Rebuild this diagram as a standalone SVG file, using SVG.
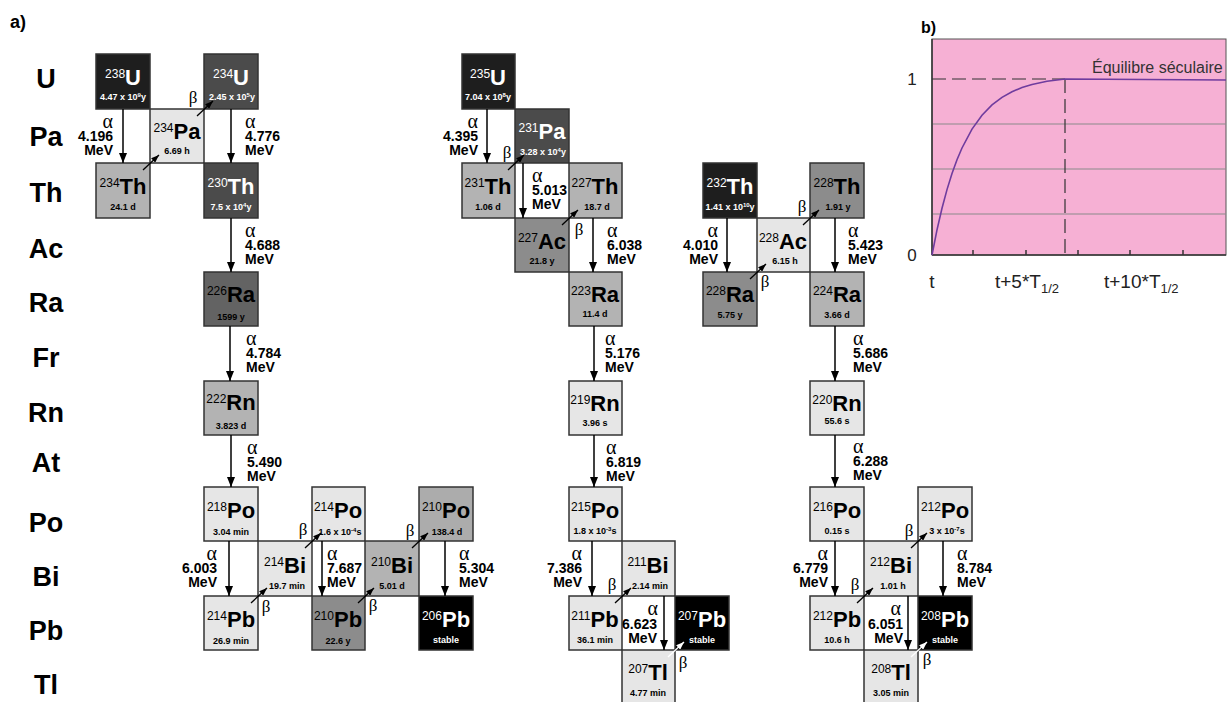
<svg xmlns="http://www.w3.org/2000/svg" width="1231" height="702" viewBox="0 0 1231 702">
<defs>
<style>
text{font-family:"Liberation Sans",Arial,sans-serif}
.bx{stroke:#333;stroke-width:1.5}
.sym{font-weight:bold;font-size:22px;text-anchor:middle}
.ms{font-weight:normal;font-size:12px}
.hl{font-weight:bold;font-size:9px;text-anchor:middle}
.sp{font-size:6px}
.w{fill:#fff}
.row{font-weight:bold;font-size:27px;text-anchor:middle}
.al{stroke:#000;stroke-width:1.5;fill:none;marker-end:url(#ah)}
.bl{stroke:#000;stroke-width:1.3;fill:none;marker-end:url(#bh)}
.blw{stroke:#fff;stroke-width:1.3;fill:none;marker-end:url(#bhw)}
.gr{font-family:"Liberation Serif","Times New Roman",serif;font-size:20px;font-weight:normal}
.bt{font-family:"Liberation Serif","Times New Roman",serif;font-size:17px;text-anchor:middle}
.en{font-weight:bold;font-size:14px}
.e{text-anchor:end}
.gl{font-size:19px;fill:#222}
</style>
<marker id="ah" markerWidth="10" markerHeight="8" refX="10" refY="4" orient="auto" markerUnits="userSpaceOnUse"><path d="M0,0 L10,4 L0,8 z" fill="#000"/></marker>
<marker id="bh" markerWidth="8" markerHeight="6" refX="8" refY="3" orient="auto" markerUnits="userSpaceOnUse"><path d="M0,0 L8,3 L0,6 z" fill="#000"/></marker>
<marker id="bhw" markerWidth="8" markerHeight="6" refX="8" refY="3" orient="auto" markerUnits="userSpaceOnUse"><path d="M0,0 L8,3 L0,6 z" fill="#fff"/></marker>
</defs>
<rect width="1231" height="702" fill="#fff"/>

<g id="row-labels">
<text x="10" y="28" font-weight="bold" font-size="18">a)</text>
<text class="row" x="46" y="88">U</text>
<text class="row" x="46" y="146">Pa</text>
<text class="row" x="46" y="202">Th</text>
<text class="row" x="46" y="258">Ac</text>
<text class="row" x="46" y="312">Ra</text>
<text class="row" x="46" y="367">Fr</text>
<text class="row" x="46" y="422">Rn</text>
<text class="row" x="46" y="472">At</text>
<text class="row" x="46" y="532">Po</text>
<text class="row" x="46" y="586">Bi</text>
<text class="row" x="46" y="640">Pb</text>
<text class="row" x="46" y="694">Tl</text>
</g>

<!-- Uranium series -->
<g id="U238"><rect class="bx" x="96" y="54" width="54" height="55" fill="#1e1e1e"/><text class="sym w" x="123" y="85"><tspan class="ms" dy="-7">238</tspan><tspan dy="7">U</tspan></text><text class="hl w" x="123" y="100">4.47 x 10<tspan class="sp" dy="-3">9</tspan><tspan dy="3">y</tspan></text></g>
<g id="U234"><rect class="bx" x="204" y="54" width="54" height="55" fill="#4b4b4b"/><text class="sym w" x="231" y="85"><tspan class="ms" dy="-7">234</tspan><tspan dy="7">U</tspan></text><text class="hl w" x="232" y="100">2.45 x 10<tspan class="sp" dy="-3">5</tspan><tspan dy="3">y</tspan></text></g>
<g id="Pa234"><rect class="bx" x="150" y="109" width="54" height="54" fill="#e6e6e6"/><text class="sym" x="177" y="139"><tspan class="ms" dy="-7">234</tspan><tspan dy="7">Pa</tspan></text><text class="hl" x="177" y="154">6.69 h</text></g>
<g id="Th234"><rect class="bx" x="96" y="163" width="54" height="55" fill="#b3b3b3"/><text class="sym" x="123" y="194"><tspan class="ms" dy="-7">234</tspan><tspan dy="7">Th</tspan></text><text class="hl" x="123" y="210">24.1 d</text></g>
<g id="Th230"><rect class="bx" x="204" y="163" width="54" height="55" fill="#4b4b4b"/><text class="sym w" x="231" y="194"><tspan class="ms" dy="-7">230</tspan><tspan dy="7">Th</tspan></text><text class="hl w" x="231" y="210">7.5 x 10<tspan class="sp" dy="-3">4</tspan><tspan dy="3">y</tspan></text></g>
<g id="Ra226"><rect class="bx" x="204" y="272" width="54" height="54" fill="#636363"/><text class="sym" x="231" y="302"><tspan class="ms" dy="-7">226</tspan><tspan dy="7">Ra</tspan></text><text class="hl" x="231" y="320">1599 y</text></g>
<g id="Rn222"><rect class="bx" x="204" y="381" width="54" height="54" fill="#b3b3b3"/><text class="sym" x="231" y="410"><tspan class="ms" dy="-7">222</tspan><tspan dy="7">Rn</tspan></text><text class="hl" x="231" y="429">3.823 d</text></g>
<g id="Po218"><rect class="bx" x="204" y="487" width="54" height="54" fill="#e6e6e6"/><text class="sym" x="231" y="518"><tspan class="ms" dy="-7">218</tspan><tspan dy="7">Po</tspan></text><text class="hl" x="231" y="535">3.04 min</text></g>
<g id="Bi214"><rect class="bx" x="258" y="541" width="54" height="55" fill="#e6e6e6"/><text class="sym" x="285" y="573"><tspan class="ms" dy="-7">214</tspan><tspan dy="7">Bi</tspan></text><text class="hl" x="287" y="589">19.7 min</text></g>
<g id="Po214"><rect class="bx" x="312" y="487" width="53" height="54" fill="#e6e6e6"/><text class="sym" x="338" y="518"><tspan class="ms" dy="-7">214</tspan><tspan dy="7">Po</tspan></text><text class="hl" x="340" y="535">1.6 x 10<tspan class="sp" dy="-3">-4</tspan><tspan dy="3">s</tspan></text></g>
<g id="Pb214"><rect class="bx" x="204" y="596" width="54" height="54" fill="#e6e6e6"/><text class="sym" x="231" y="627"><tspan class="ms" dy="-7">214</tspan><tspan dy="7">Pb</tspan></text><text class="hl" x="231" y="644">26.9 min</text></g>
<g id="Bi210"><rect class="bx" x="365" y="541" width="54" height="55" fill="#b3b3b3"/><text class="sym" x="392" y="573"><tspan class="ms" dy="-7">210</tspan><tspan dy="7">Bi</tspan></text><text class="hl" x="392" y="589">5.01 d</text></g>
<g id="Pb210"><rect class="bx" x="312" y="596" width="53" height="54" fill="#8c8c8c"/><text class="sym" x="338" y="627"><tspan class="ms" dy="-7">210</tspan><tspan dy="7">Pb</tspan></text><text class="hl" x="338" y="644">22.6 y</text></g>
<g id="Po210"><rect class="bx" x="419" y="487" width="54" height="54" fill="#acacac"/><text class="sym" x="446" y="518"><tspan class="ms" dy="-7">210</tspan><tspan dy="7">Po</tspan></text><text class="hl" x="447" y="535">138.4 d</text></g>
<g id="Pb206"><rect class="bx" x="419" y="596" width="54" height="54" fill="#000"/><text class="sym w" x="446" y="627"><tspan class="ms" dy="-7">206</tspan><tspan dy="7">Pb</tspan></text><text class="hl w" x="446" y="643">stable</text></g>

<!-- Actinium series -->
<g id="U235"><rect class="bx" x="462" y="54" width="53" height="55" fill="#1e1e1e"/><text class="sym w" x="488" y="85"><tspan class="ms" dy="-7">235</tspan><tspan dy="7">U</tspan></text><text class="hl w" x="488" y="100">7.04 x 10<tspan class="sp" dy="-3">8</tspan><tspan dy="3">y</tspan></text></g>
<g id="Pa231"><rect class="bx" x="515" y="109" width="54" height="54" fill="#4b4b4b"/><text class="sym w" x="542" y="139"><tspan class="ms" dy="-7">231</tspan><tspan dy="7">Pa</tspan></text><text class="hl w" x="543" y="155">3.28 x 10<tspan class="sp" dy="-3">4</tspan><tspan dy="3">y</tspan></text></g>
<g id="Th231"><rect class="bx" x="462" y="163" width="53" height="55" fill="#b3b3b3"/><text class="sym" x="488" y="194"><tspan class="ms" dy="-7">231</tspan><tspan dy="7">Th</tspan></text><text class="hl" x="488" y="210">1.06 d</text></g>
<g id="Th227"><rect class="bx" x="569" y="163" width="53" height="55" fill="#b3b3b3"/><text class="sym" x="595" y="194"><tspan class="ms" dy="-7">227</tspan><tspan dy="7">Th</tspan></text><text class="hl" x="597" y="210">18.7 d</text></g>
<g id="Ac227"><rect class="bx" x="515" y="218" width="54" height="54" fill="#8c8c8c"/><text class="sym" x="542" y="249"><tspan class="ms" dy="-7">227</tspan><tspan dy="7">Ac</tspan></text><text class="hl" x="542" y="264">21.8 y</text></g>
<g id="Ra223"><rect class="bx" x="569" y="272" width="53" height="54" fill="#b3b3b3"/><text class="sym" x="595" y="302"><tspan class="ms" dy="-7">223</tspan><tspan dy="7">Ra</tspan></text><text class="hl" x="595" y="317">11.4 d</text></g>
<g id="Rn219"><rect class="bx" x="569" y="381" width="53" height="54" fill="#e6e6e6"/><text class="sym" x="595" y="411"><tspan class="ms" dy="-7">219</tspan><tspan dy="7">Rn</tspan></text><text class="hl" x="595" y="426">3.96 s</text></g>
<g id="Po215"><rect class="bx" x="569" y="487" width="53" height="54" fill="#e6e6e6"/><text class="sym" x="595" y="518"><tspan class="ms" dy="-7">215</tspan><tspan dy="7">Po</tspan></text><text class="hl" x="595" y="534">1.8 x 10<tspan class="sp" dy="-3">-3</tspan><tspan dy="3">s</tspan></text></g>
<g id="Bi211"><rect class="bx" x="622" y="541" width="53" height="55" fill="#e6e6e6"/><text class="sym" x="648" y="573"><tspan class="ms" dy="-7">211</tspan><tspan dy="7">Bi</tspan></text><text class="hl" x="650" y="589">2.14 min</text></g>
<g id="Pb211"><rect class="bx" x="569" y="596" width="53" height="54" fill="#e6e6e6"/><text class="sym" x="595" y="627"><tspan class="ms" dy="-7">211</tspan><tspan dy="7">Pb</tspan></text><text class="hl" x="595" y="643">36.1 min</text></g>
<g id="Pb207"><rect class="bx" x="675" y="596" width="54" height="54" fill="#000"/><text class="sym w" x="702" y="627"><tspan class="ms" dy="-7">207</tspan><tspan dy="7">Pb</tspan></text><text class="hl w" x="702" y="643">stable</text></g>
<g id="Tl207"><rect class="bx" x="622" y="650" width="53" height="54" fill="#e6e6e6"/><text class="sym" x="648" y="680"><tspan class="ms" dy="-7">207</tspan><tspan dy="7">Tl</tspan></text><text class="hl" x="648" y="696">4.77 min</text></g>

<!-- Thorium series -->
<g id="Th232"><rect class="bx" x="703" y="163" width="54" height="55" fill="#1e1e1e"/><text class="sym w" x="730" y="194"><tspan class="ms" dy="-7">232</tspan><tspan dy="7">Th</tspan></text><text class="hl w" x="730" y="210">1.41 x 10<tspan class="sp" dy="-3">10</tspan><tspan dy="3">y</tspan></text></g>
<g id="Th228"><rect class="bx" x="810" y="163" width="54" height="55" fill="#8c8c8c"/><text class="sym" x="837" y="194"><tspan class="ms" dy="-7">228</tspan><tspan dy="7">Th</tspan></text><text class="hl" x="838" y="210">1.91 y</text></g>
<g id="Ac228"><rect class="bx" x="757" y="218" width="53" height="54" fill="#e6e6e6"/><text class="sym" x="783" y="249"><tspan class="ms" dy="-7">228</tspan><tspan dy="7">Ac</tspan></text><text class="hl" x="785" y="264">6.15 h</text></g>
<g id="Ra228"><rect class="bx" x="703" y="272" width="54" height="54" fill="#8c8c8c"/><text class="sym" x="730" y="302"><tspan class="ms" dy="-7">228</tspan><tspan dy="7">Ra</tspan></text><text class="hl" x="730" y="318">5.75 y</text></g>
<g id="Ra224"><rect class="bx" x="810" y="272" width="54" height="54" fill="#b3b3b3"/><text class="sym" x="837" y="302"><tspan class="ms" dy="-7">224</tspan><tspan dy="7">Ra</tspan></text><text class="hl" x="837" y="318">3.66 d</text></g>
<g id="Rn220"><rect class="bx" x="810" y="381" width="54" height="54" fill="#e6e6e6"/><text class="sym" x="837" y="411"><tspan class="ms" dy="-7">220</tspan><tspan dy="7">Rn</tspan></text><text class="hl" x="837" y="424">55.6 s</text></g>
<g id="Po216"><rect class="bx" x="810" y="487" width="54" height="54" fill="#e6e6e6"/><text class="sym" x="837" y="518"><tspan class="ms" dy="-7">216</tspan><tspan dy="7">Po</tspan></text><text class="hl" x="837" y="534">0.15 s</text></g>
<g id="Po212"><rect class="bx" x="918" y="487" width="54" height="54" fill="#e6e6e6"/><text class="sym" x="945" y="518"><tspan class="ms" dy="-7">212</tspan><tspan dy="7">Po</tspan></text><text class="hl" x="947" y="534">3 x 10<tspan class="sp" dy="-3">-7</tspan><tspan dy="3">s</tspan></text></g>
<g id="Bi212"><rect class="bx" x="864" y="541" width="54" height="55" fill="#e6e6e6"/><text class="sym" x="891" y="573"><tspan class="ms" dy="-7">212</tspan><tspan dy="7">Bi</tspan></text><text class="hl" x="893" y="589">1.01 h</text></g>
<g id="Pb212"><rect class="bx" x="810" y="596" width="54" height="54" fill="#e6e6e6"/><text class="sym" x="837" y="627"><tspan class="ms" dy="-7">212</tspan><tspan dy="7">Pb</tspan></text><text class="hl" x="837" y="643">10.6 h</text></g>
<g id="Pb208"><rect class="bx" x="918" y="596" width="54" height="54" fill="#000"/><text class="sym w" x="945" y="627"><tspan class="ms" dy="-7">208</tspan><tspan dy="7">Pb</tspan></text><text class="hl w" x="945" y="643">stable</text></g>
<g id="Tl208"><rect class="bx" x="864" y="650" width="54" height="54" fill="#e6e6e6"/><text class="sym" x="891" y="680"><tspan class="ms" dy="-7">208</tspan><tspan dy="7">Tl</tspan></text><text class="hl" x="891" y="696">3.05 min</text></g>

<g id="connectors">
<!-- alpha arrows -->
<line class="al" x1="123" y1="109" x2="123" y2="163"/>
<line class="al" x1="231" y1="109" x2="231" y2="163"/>
<line class="al" x1="231" y1="218" x2="231" y2="272"/>
<line class="al" x1="230" y1="326" x2="230" y2="381"/>
<line class="al" x1="231" y1="435" x2="231" y2="487"/>
<line class="al" x1="229" y1="541" x2="229" y2="596"/>
<line class="al" x1="322" y1="541" x2="322" y2="596"/>
<line class="al" x1="445" y1="541" x2="445" y2="596"/>
<line class="al" x1="487" y1="109" x2="487" y2="163"/>
<line class="al" x1="523" y1="163" x2="523" y2="218"/>
<line class="al" x1="593" y1="218" x2="593" y2="272"/>
<line class="al" x1="594" y1="326" x2="594" y2="381"/>
<line class="al" x1="594" y1="435" x2="594" y2="487"/>
<line class="al" x1="592" y1="541" x2="592" y2="596"/>
<line class="al" x1="664" y1="596" x2="664" y2="650"/>
<line class="al" x1="727" y1="218" x2="727" y2="272"/>
<line class="al" x1="835" y1="218" x2="835" y2="272"/>
<line class="al" x1="835" y1="326" x2="835" y2="381"/>
<line class="al" x1="835" y1="435" x2="835" y2="487"/>
<line class="al" x1="835" y1="541" x2="835" y2="596"/>
<line class="al" x1="943" y1="541" x2="943" y2="596"/>
<line class="al" x1="908" y1="596" x2="908" y2="650"/>
<!-- beta arrows -->
<line class="bl" x1="143" y1="170" x2="159" y2="155"/>
<line class="bl" x1="197" y1="116" x2="213" y2="101"/>
<line class="bl" x1="305" y1="548" x2="321" y2="533"/>
<line class="bl" x1="251" y1="603" x2="267" y2="588"/>
<line class="bl" x1="412" y1="548" x2="428" y2="533"/>
<line class="bl" x1="358" y1="603" x2="374" y2="588"/>
<line class="bl" x1="508" y1="170" x2="524" y2="155"/>
<line class="bl" x1="562" y1="225" x2="578" y2="210"/>
<line class="bl" x1="615" y1="603" x2="631" y2="588"/>
<line class="blw" x1="668" y1="657" x2="684" y2="642"/>
<line class="bl" x1="750" y1="279" x2="766" y2="264"/>
<line class="bl" x1="803" y1="225" x2="819" y2="210"/>
<line class="bl" x1="857" y1="603" x2="873" y2="588"/>
<line class="bl" x1="911" y1="548" x2="927" y2="533"/>
<line class="blw" x1="911" y1="657" x2="927" y2="642"/>
<!-- beta labels -->
<text class="bt" x="193" y="103">β</text>
<text class="bt" x="303" y="535">β</text>
<text class="bt" x="266" y="612">β</text>
<text class="bt" x="410" y="536">β</text>
<text class="bt" x="373" y="611">β</text>
<text class="bt" x="507" y="158">β</text>
<text class="bt" x="579" y="235">β</text>
<text class="bt" x="612" y="590">β</text>
<text class="bt" x="683" y="668">β</text>
<text class="bt" x="765" y="287">β</text>
<text class="bt" x="802" y="212">β</text>
<text class="bt" x="855" y="590">β</text>
<text class="bt" x="909" y="536">β</text>
<text class="bt" x="927" y="665">β</text>
<!-- alpha labels -->
<text class="en e"><tspan class="gr" x="113" y="128">α</tspan><tspan x="113" y="141">4.196</tspan><tspan x="113" y="155">MeV</tspan></text>
<text class="en"><tspan class="gr" x="245" y="128">α</tspan><tspan x="245" y="141">4.776</tspan><tspan x="245" y="155">MeV</tspan></text>
<text class="en"><tspan class="gr" x="245" y="237">α</tspan><tspan x="245" y="250">4.688</tspan><tspan x="245" y="264">MeV</tspan></text>
<text class="en"><tspan class="gr" x="246" y="345">α</tspan><tspan x="246" y="358">4.784</tspan><tspan x="246" y="372">MeV</tspan></text>
<text class="en"><tspan class="gr" x="247" y="454">α</tspan><tspan x="247" y="467">5.490</tspan><tspan x="247" y="481">MeV</tspan></text>
<text class="en e"><tspan class="gr" x="217" y="560">α</tspan><tspan x="217" y="573">6.003</tspan><tspan x="217" y="587">MeV</tspan></text>
<text class="en"><tspan class="gr" x="327" y="560">α</tspan><tspan x="327" y="573">7.687</tspan><tspan x="327" y="587">MeV</tspan></text>
<text class="en"><tspan class="gr" x="459" y="560">α</tspan><tspan x="459" y="573">5.304</tspan><tspan x="459" y="587">MeV</tspan></text>
<text class="en e"><tspan class="gr" x="478" y="128">α</tspan><tspan x="478" y="141">4.395</tspan><tspan x="478" y="155">MeV</tspan></text>
<text class="en"><tspan class="gr" x="532" y="182">α</tspan><tspan x="532" y="195">5.013</tspan><tspan x="532" y="209">MeV</tspan></text>
<text class="en"><tspan class="gr" x="607" y="237">α</tspan><tspan x="607" y="250">6.038</tspan><tspan x="607" y="264">MeV</tspan></text>
<text class="en"><tspan class="gr" x="605" y="345">α</tspan><tspan x="605" y="358">5.176</tspan><tspan x="605" y="372">MeV</tspan></text>
<text class="en"><tspan class="gr" x="606" y="454">α</tspan><tspan x="606" y="467">6.819</tspan><tspan x="606" y="481">MeV</tspan></text>
<text class="en e"><tspan class="gr" x="582" y="560">α</tspan><tspan x="582" y="573">7.386</tspan><tspan x="582" y="587">MeV</tspan></text>
<text class="en e"><tspan class="gr" x="658" y="615">α</tspan><tspan x="657" y="629">6.623</tspan><tspan x="657" y="643">MeV</tspan></text>
<text class="en e"><tspan class="gr" x="718" y="237">α</tspan><tspan x="718" y="250">4.010</tspan><tspan x="718" y="264">MeV</tspan></text>
<text class="en"><tspan class="gr" x="848" y="237">α</tspan><tspan x="848" y="250">5.423</tspan><tspan x="848" y="264">MeV</tspan></text>
<text class="en"><tspan class="gr" x="853" y="345">α</tspan><tspan x="853" y="358">5.686</tspan><tspan x="853" y="372">MeV</tspan></text>
<text class="en"><tspan class="gr" x="853" y="453">α</tspan><tspan x="853" y="466">6.288</tspan><tspan x="853" y="480">MeV</tspan></text>
<text class="en e"><tspan class="gr" x="828" y="560">α</tspan><tspan x="828" y="573">6.779</tspan><tspan x="828" y="587">MeV</tspan></text>
<text class="en"><tspan class="gr" x="957" y="560">α</tspan><tspan x="957" y="573">8.784</tspan><tspan x="957" y="587">MeV</tspan></text>
<text class="en e"><tspan class="gr" x="901" y="615">α</tspan><tspan x="903" y="629">6.051</tspan><tspan x="903" y="643">MeV</tspan></text>
</g>

<g id="graph-b">
<text x="921" y="33" font-weight="bold" font-size="16">b)</text>
<rect x="932" y="39" width="294" height="216" fill="#f6b0d4" stroke="#555" stroke-width="1"/>
<g stroke="#8a8a8a" stroke-width="1">
<line x1="932" y1="124" x2="1226" y2="124"/>
<line x1="932" y1="169" x2="1226" y2="169"/>
<line x1="932" y1="214" x2="1226" y2="214"/>
</g>
<g stroke="#333" stroke-width="1.2" stroke-dasharray="14 6" fill="none">
<line x1="932" y1="79" x2="1065" y2="79"/>
<line x1="1065" y1="79" x2="1065" y2="255"/>
</g>
<g stroke="#333" stroke-width="1.5">
<line x1="932" y1="39" x2="932" y2="255"/>
<line x1="932" y1="255" x2="1226" y2="255"/>
<line x1="973" y1="250" x2="973" y2="255"/>
<line x1="1026" y1="250" x2="1026" y2="255"/>
<line x1="1078" y1="250" x2="1078" y2="255"/>
<line x1="1130" y1="250" x2="1130" y2="255"/>
<line x1="1183" y1="250" x2="1183" y2="255"/>
</g>
<path d="M932,255 L937,229.8 L942,208.2 L947,189.6 L952,173.5 L957,159.8 L962,148 L972,129.1 L982,115.2 L992,104.9 L1002,97.3 L1012,91.7 L1022,87.5 L1032,84.5 L1047,81.3 L1065,79 L1226,80" fill="none" stroke="#6f3c9e" stroke-width="1.6"/>
<text x="1092" y="73" font-size="16" fill="#333">Équilibre séculaire</text>
<text x="912" y="85" font-size="17" fill="#222" text-anchor="middle">1</text>
<text x="912" y="261" font-size="17" fill="#222" text-anchor="middle">0</text>
<text class="gl" x="932" y="288" text-anchor="middle">t</text>
<text class="gl" x="995" y="288">t+5*T<tspan font-size="13" dy="5">1/2</tspan></text>
<text class="gl" x="1104" y="288">t+10*T<tspan font-size="13" dy="5">1/2</tspan></text>
</g>
</svg>
